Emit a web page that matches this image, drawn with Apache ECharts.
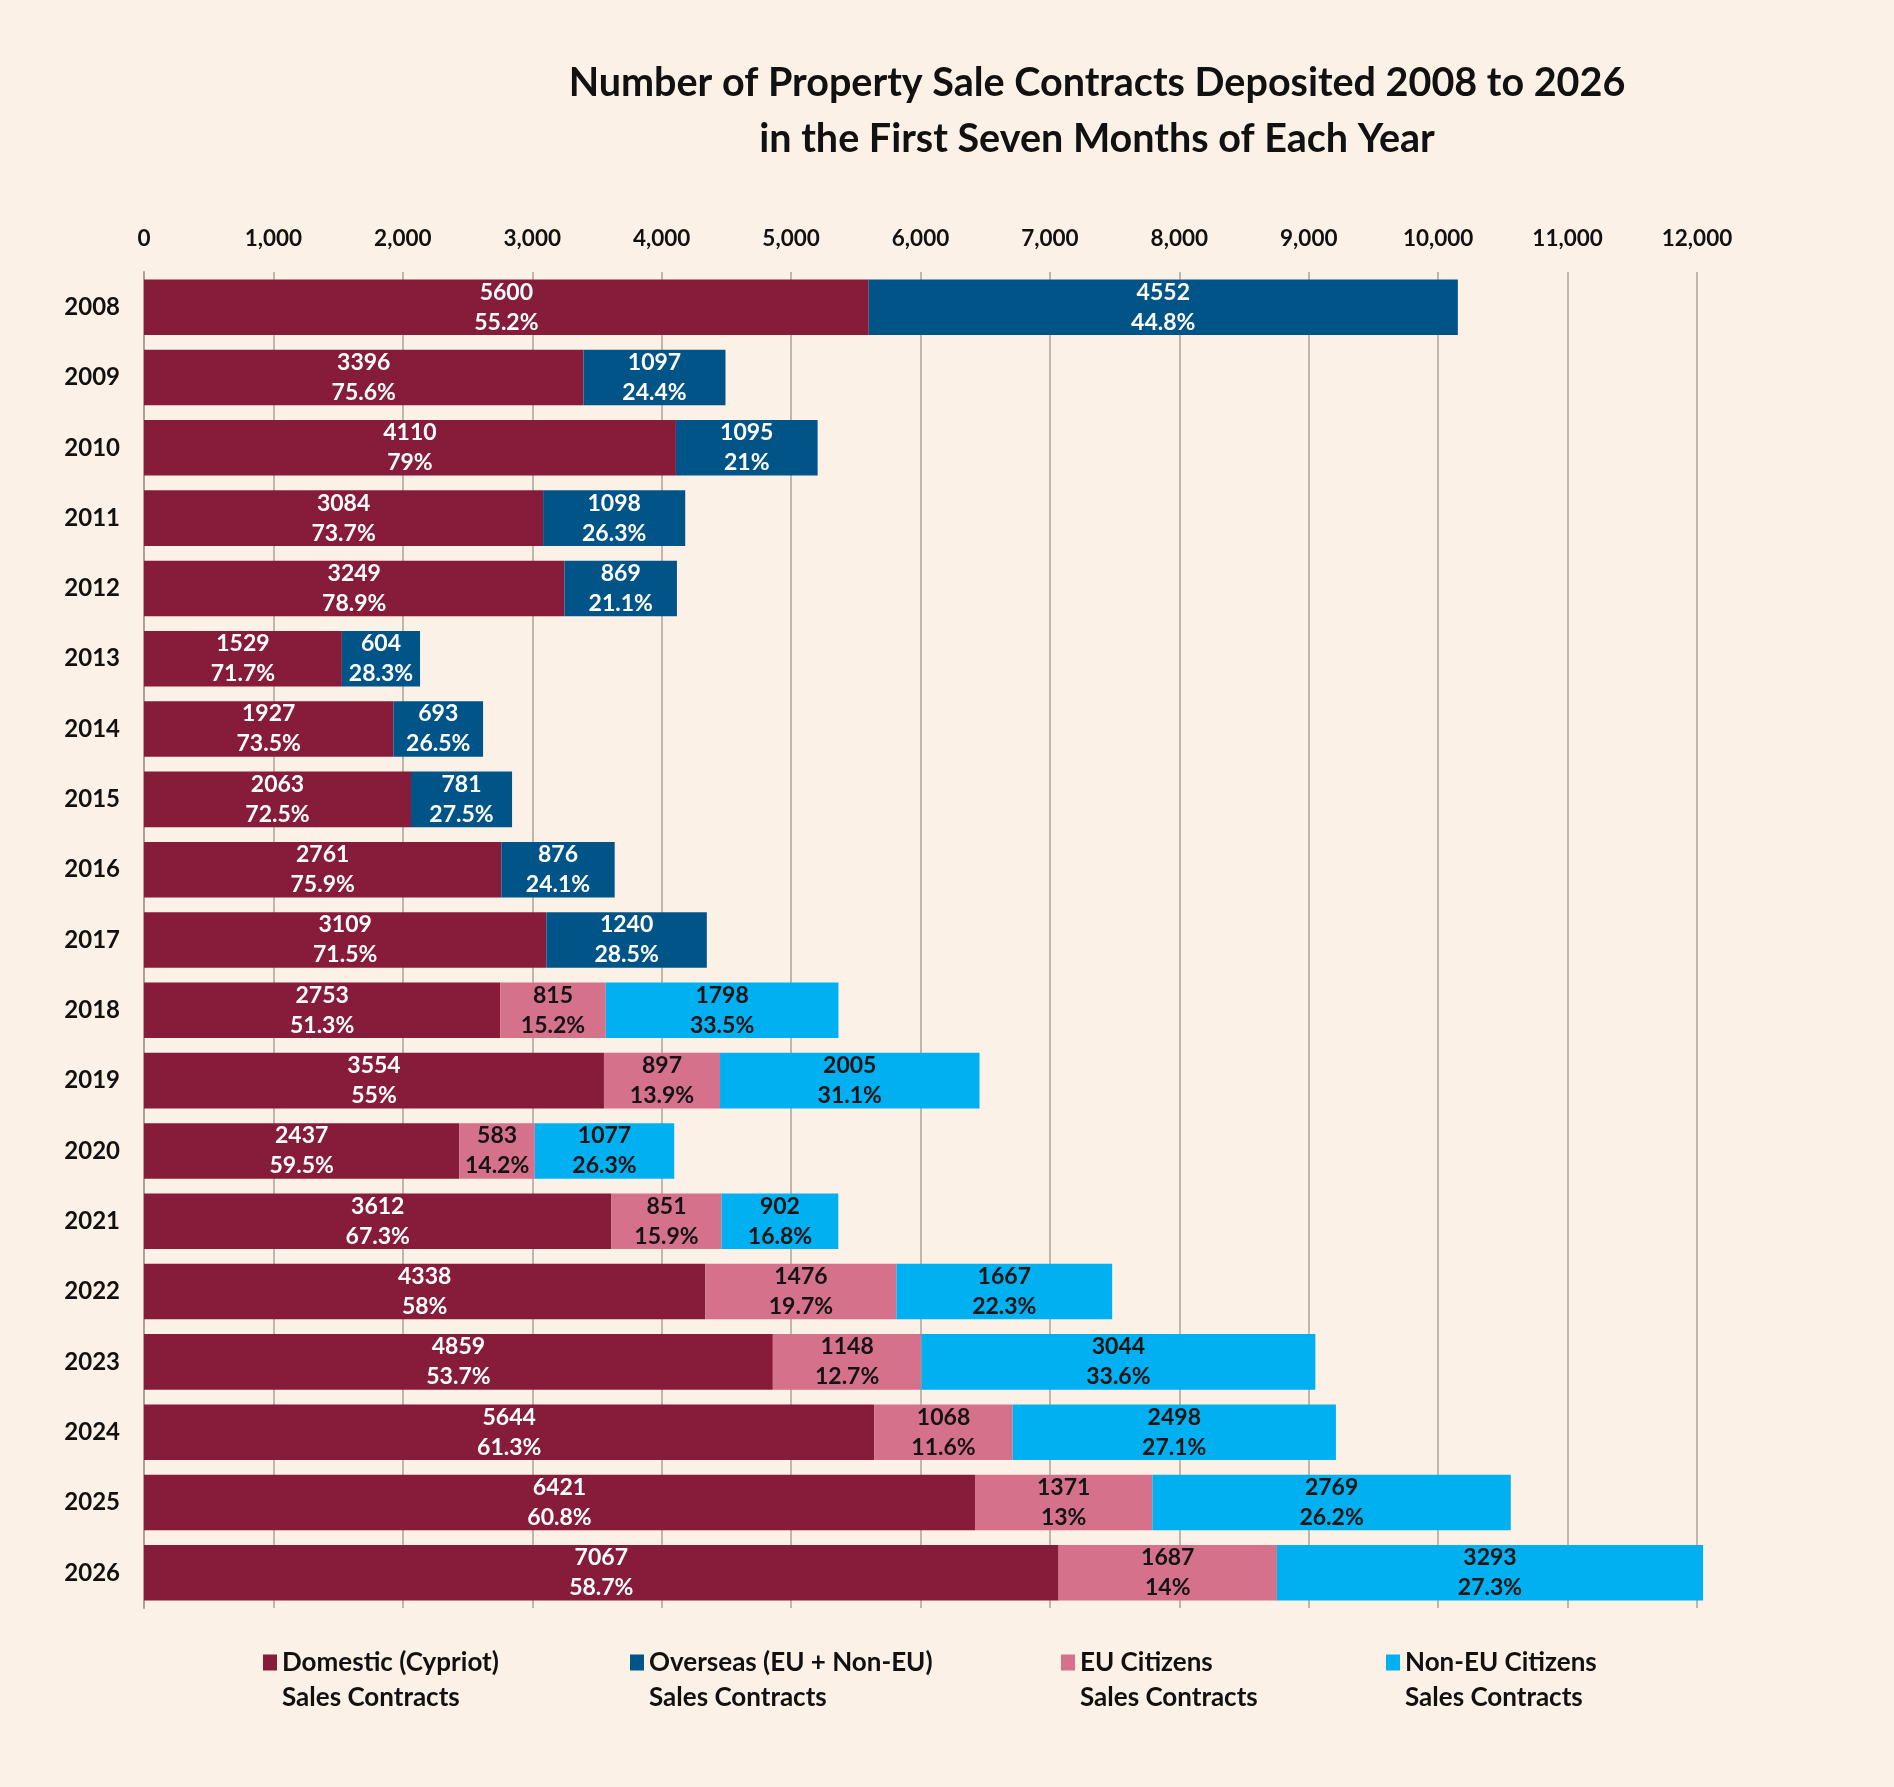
<!DOCTYPE html>
<html>
<head>
<meta charset="utf-8">
<script src="https://cdn.jsdelivr.net/npm/echarts@6/dist/echarts.min.js"></script>
<style>
html,body{margin:0;padding:0;background:#FCF1E6;}
#chart{width:1894px;height:1787px;}
</style>
</head>
<body>
<div id="chart"></div>
<script>
const years = ['2008','2009','2010','2011','2012','2013','2014','2015','2016','2017','2018','2019','2020','2021','2022','2023','2024','2025','2026'];
const domestic = [5600,3396,4110,3084,3249,1529,1927,2063,2761,3109,2753,3554,2437,3612,4338,4859,5644,6421,7067];
const domesticPct = [55.2,75.6,79,73.7,78.9,71.7,73.5,72.5,75.9,71.5,51.3,55,59.5,67.3,58,53.7,61.3,60.8,58.7];
const overseas = [4552,1097,1095,1098,869,604,693,781,876,1240,null,null,null,null,null,null,null,null,null];
const overseasPct = [44.8,24.4,21,26.3,21.1,28.3,26.5,27.5,24.1,28.5,null,null,null,null,null,null,null,null,null];
const euCitizens = [null,null,null,null,null,null,null,null,null,null,815,897,583,851,1476,1148,1068,1371,1687];
const euPct = [null,null,null,null,null,null,null,null,null,null,15.2,13.9,14.2,15.9,19.7,12.7,11.6,13,14];
const nonEu = [null,null,null,null,null,null,null,null,null,null,1798,2005,1077,902,1667,3044,2498,2769,3293];
const nonEuPct = [null,null,null,null,null,null,null,null,null,null,33.5,31.1,26.3,16.8,22.3,33.6,27.1,26.2,27.3];
const seriesNames = ['Domestic (Cypriot)','Overseas (EU + Non-EU)','EU Citizens','Non-EU Citizens'];
const legendSecondLine = 'Sales Contracts';

const FONT = 'Lato';
const GRIDC = '#aaa39b';

function mkLabel(pcts, color) {
  return {
    show: true,
    position: 'inside',
    color: color,
    fontFamily: FONT,
    fontWeight: 'bold',
    fontSize: 23,
    lineHeight: 30,
    formatter: function (p) { return p.value + '\n' + pcts[p.dataIndex] + '%'; }
  };
}

function mkSeries(name, data, pcts, color, labelColor) {
  return {
    name: name,
    type: 'bar',
    stack: 'total',
    barCategoryGap: '21%',
    clip: false,
    data: data,
    itemStyle: { color: color },
    label: mkLabel(pcts, labelColor),
    emphasis: { disabled: true }
  };
}

const legendLefts = [263, 630, 1061, 1386];
const legendRich = {
  e: { fontFamily: FONT, fontSize: 26, lineHeight: 35, fontWeight: 'bold', color: '#111' },
  a: { fontFamily: FONT, fontSize: 26, lineHeight: 35, fontWeight: 'bold', color: '#111' }
};
const legends = seriesNames.map(function (n, i) {
  return {
    data: [n],
    left: legendLefts[i],
    top: 1610,
    padding: 0,
    itemWidth: 14,
    itemHeight: 16,
    itemGap: 0,
    icon: 'rect',
    selectedMode: false,
    formatter: function (name) { return '{e| }\n{a|' + name + '}\n{a|' + legendSecondLine + '}'; },
    textStyle: {
      fontFamily: FONT, fontWeight: 'bold', fontSize: 26, color: '#111', lineHeight: 35,
      rich: legendRich
    }
  };
});

const chart = echarts.init(document.getElementById('chart'));
chart.setOption({
  backgroundColor: '#FCF1E6',
  animation: false,
  title: {
    text: 'Number of Property Sale Contracts Deposited 2008 to 2026\nin the First Seven Months of Each Year',
    left: 1092,
    top: 50,
    textAlign: 'center',
    textStyle: { fontFamily: FONT, fontWeight: 'bold', fontSize: 39.5, lineHeight: 56, color: '#111' }
  },
  legend: legends,
  grid: { left: 144, right: 197, top: 272, bottom: 179, containLabel: false },
  xAxis: {
    type: 'value',
    position: 'top',
    min: 0, max: 12000, interval: 1000,
    axisLine: { show: false },
    axisTick: { show: false },
    axisLabel: {
      margin: 22,
      fontFamily: FONT, fontWeight: 'bold', fontSize: 22.5, color: '#111',
      formatter: function (v) { return v.toLocaleString('en-US'); }
    },
    splitLine: { show: true, lineStyle: { color: GRIDC, width: 1.5 } }
  },
  yAxis: {
    type: 'category',
    inverse: true,
    data: years,
    axisLine: { show: true, lineStyle: { color: GRIDC, width: 2 } },
    axisTick: { show: false },
    axisLabel: { margin: 24, fontFamily: FONT, fontWeight: 'bold', fontSize: 24, color: '#111' }
  },
  series: [
    mkSeries(seriesNames[0], domestic, domesticPct, '#871B3A', '#ffffff'),
    mkSeries(seriesNames[1], overseas, overseasPct, '#015487', '#ffffff'),
    mkSeries(seriesNames[2], euCitizens, euPct, '#D5718A', '#141414'),
    mkSeries(seriesNames[3], nonEu, nonEuPct, '#00B0F0', '#141414')
  ]
});
</script>
</body>
</html>
